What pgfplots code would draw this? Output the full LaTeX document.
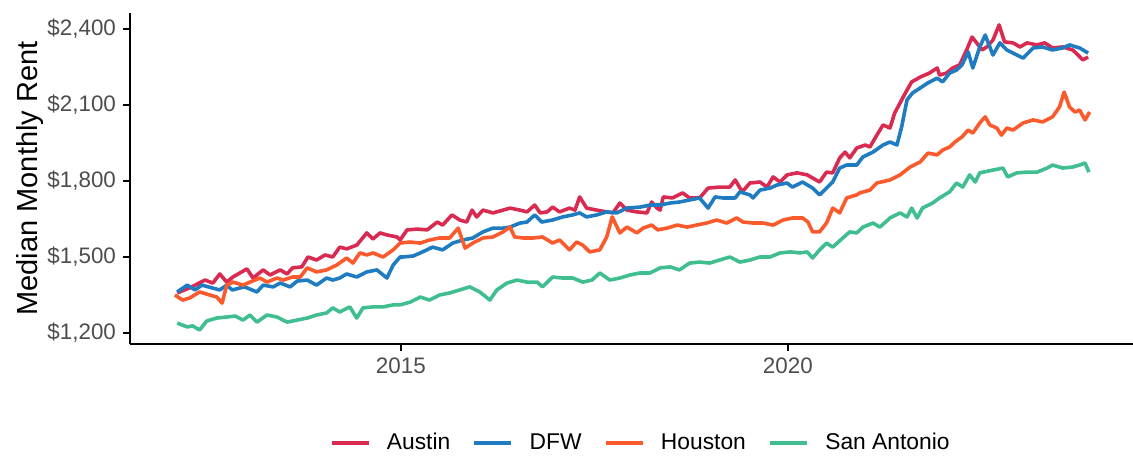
\documentclass[border=0pt]{standalone}
\usepackage{pgfplots}
\pgfplotsset{compat=1.18}
\usepackage{fontspec}
\setmainfont{Liberation Sans}
\definecolor{austin}{HTML}{D92B52}
\definecolor{dfw}{HTML}{1F7CC1}
\definecolor{houston}{HTML}{FA5A2C}
\definecolor{sanantonio}{HTML}{40BE8F}
\definecolor{ticktext}{HTML}{4D4D4D}
\begin{document}
\begin{tikzpicture}
\begin{axis}[
  name=main,
  scale only axis,
  width=501.5pt, height=165.5pt,
  xmin=2011.5, xmax=2024.46, ymin=1156.6, ymax=2463,
  axis x line*=bottom, axis y line*=left,
  axis line style={black, line width=1pt, -},
  xtick={2015,2020}, xticklabels={2015,2020},
  ytick={1200,1500,1800,2100,2400},
  yticklabels={{\$1,200},{\$1,500},{\$1,800},{\$2,100},{\$2,400}},
  tick align=outside, major tick length=3.5pt,
  tick style={black, line width=0.8pt},
  ticklabel style={font=\fontsize{11.2}{13}\selectfont, text=ticktext},
  ylabel={Median Monthly Rent},
  ylabel style={font=\fontsize{14.5}{17}\selectfont, at={(axis description cs:-0.0997,0.5)}, anchor=center},
  legend columns=4,
  legend style={at={(0.510,-0.299)}, anchor=center, draw=none, font=\fontsize{11.4}{13}\selectfont,
    /tikz/every odd column/.append style={column sep=6pt},
    /tikz/every even column/.append style={column sep=9pt}},
  legend image code/.code={\draw[#1, line width=2.2pt] (0pt,0pt) -- (18.5pt,0pt);},
  every axis plot/.append style={line width=1.8pt, line join=round},
  clip=false,
]
\addplot[austin] coordinates {
(2012.11,1358) (2012.27,1378) (2012.47,1409) (2012.57,1397) (2012.66,1433) (2012.75,1401) (2012.83,1421)
(2013.01,1453) (2013.09,1417) (2013.22,1449) (2013.31,1429) (2013.44,1449) (2013.53,1433) (2013.60,1457)
(2013.72,1461) (2013.80,1500) (2013.91,1488) (2014.02,1508) (2014.12,1500) (2014.21,1539) (2014.30,1532)
(2014.43,1547) (2014.56,1595) (2014.64,1571) (2014.73,1595) (2014.82,1587) (2014.95,1579) (2014.99,1567)
(2015.08,1607) (2015.21,1610) (2015.34,1607) (2015.47,1638) (2015.54,1626) (2015.66,1666) (2015.76,1646)
(2015.85,1638) (2015.92,1685) (2015.98,1658) (2016.06,1685) (2016.19,1674) (2016.32,1685) (2016.41,1693)
(2016.54,1685) (2016.63,1678) (2016.73,1705) (2016.80,1674) (2016.89,1678) (2016.96,1697) (2017.05,1678)
(2017.18,1693) (2017.25,1685) (2017.31,1737) (2017.40,1693) (2017.53,1685) (2017.66,1678) (2017.74,1674)
(2017.83,1713) (2017.92,1685) (2018.05,1678) (2018.18,1674) (2018.24,1717) (2018.31,1693) (2018.35,1685)
(2018.39,1737) (2018.51,1733) (2018.64,1753) (2018.73,1733) (2018.86,1733) (2018.97,1772) (2019.12,1776)
(2019.25,1776) (2019.32,1804) (2019.41,1757) (2019.51,1792) (2019.64,1796) (2019.73,1776) (2019.81,1816)
(2019.90,1796) (2019.99,1824) (2020.12,1832) (2020.25,1824) (2020.32,1812) (2020.41,1796) (2020.50,1835)
(2020.58,1832) (2020.67,1891) (2020.74,1914) (2020.80,1891) (2020.89,1930) (2021.00,1942) (2021.06,1934)
(2021.15,1981) (2021.23,2021) (2021.32,2009) (2021.38,2068) (2021.45,2108) (2021.54,2159) (2021.60,2191)
(2021.71,2210) (2021.83,2226) (2021.93,2246) (2021.96,2218) (2022.05,2226) (2022.13,2246) (2022.22,2258)
(2022.31,2317) (2022.38,2368) (2022.44,2345) (2022.51,2317) (2022.57,2329) (2022.65,2356) (2022.73,2416)
(2022.80,2349) (2022.91,2345) (2023.00,2329) (2023.09,2345) (2023.22,2337) (2023.32,2345) (2023.42,2325)
(2023.55,2329) (2023.68,2317) (2023.75,2297) (2023.81,2278) (2023.88,2289)
};
\addlegendentry{Austin}
\addplot[dfw] coordinates {
(2012.11,1362) (2012.24,1389) (2012.34,1370) (2012.43,1389) (2012.56,1378) (2012.66,1370) (2012.75,1389)
(2012.82,1370) (2012.98,1382) (2013.14,1362) (2013.22,1389) (2013.35,1382) (2013.44,1397) (2013.57,1382)
(2013.66,1405) (2013.79,1409) (2013.91,1389) (2014.04,1417) (2014.12,1409) (2014.21,1417) (2014.30,1433)
(2014.43,1421) (2014.56,1441) (2014.69,1449) (2014.82,1417) (2014.90,1468) (2014.99,1500) (2015.03,1500)
(2015.16,1504) (2015.28,1520) (2015.41,1539) (2015.54,1528) (2015.67,1555) (2015.80,1567) (2015.93,1575)
(2016.06,1599) (2016.19,1614) (2016.32,1614) (2016.41,1618) (2016.54,1634) (2016.63,1638) (2016.73,1666)
(2016.82,1638) (2016.96,1646) (2017.09,1658) (2017.22,1666) (2017.31,1674) (2017.40,1658) (2017.53,1666)
(2017.66,1678) (2017.79,1674) (2017.92,1693) (2018.09,1697) (2018.22,1705) (2018.35,1705) (2018.48,1713)
(2018.60,1717) (2018.73,1725) (2018.86,1733) (2018.97,1693) (2019.06,1737) (2019.16,1733) (2019.32,1733)
(2019.38,1757) (2019.51,1745) (2019.55,1733) (2019.64,1764) (2019.77,1772) (2019.86,1784) (2019.99,1792)
(2020.06,1776) (2020.19,1796) (2020.32,1772) (2020.41,1745) (2020.50,1772) (2020.58,1796) (2020.67,1851)
(2020.76,1863) (2020.89,1863) (2020.97,1895) (2021.10,1914) (2021.23,1942) (2021.32,1954) (2021.41,1942)
(2021.47,2013) (2021.54,2120) (2021.61,2147) (2021.71,2167) (2021.81,2187) (2021.93,2206) (2022.00,2191)
(2022.09,2226) (2022.18,2238) (2022.25,2258) (2022.33,2309) (2022.39,2246) (2022.48,2329) (2022.55,2376)
(2022.61,2329) (2022.65,2297) (2022.74,2345) (2022.83,2317) (2022.96,2297) (2023.04,2285) (2023.17,2325)
(2023.29,2329) (2023.42,2317) (2023.55,2325) (2023.64,2337) (2023.77,2325) (2023.88,2305)
};
\addlegendentry{DFW}
\addplot[houston] coordinates {
(2012.08,1350) (2012.18,1330) (2012.27,1338) (2012.40,1362) (2012.53,1350) (2012.62,1342) (2012.69,1318)
(2012.75,1389) (2012.83,1401) (2012.96,1389) (2013.05,1401) (2013.18,1417) (2013.27,1401) (2013.40,1417)
(2013.48,1409) (2013.60,1421) (2013.70,1421) (2013.79,1457) (2013.91,1441) (2014.04,1449) (2014.17,1468)
(2014.30,1496) (2014.38,1476) (2014.47,1516) (2014.56,1508) (2014.64,1516) (2014.77,1500) (2014.90,1528)
(2014.99,1555) (2015.12,1559) (2015.25,1555) (2015.37,1567) (2015.50,1575) (2015.63,1575) (2015.74,1614)
(2015.83,1535) (2015.93,1555) (2016.06,1575) (2016.19,1579) (2016.32,1599) (2016.41,1618) (2016.47,1579)
(2016.58,1575) (2016.71,1575) (2016.83,1579) (2016.96,1555) (2017.05,1567) (2017.18,1528) (2017.27,1559)
(2017.35,1547) (2017.44,1520) (2017.57,1528) (2017.66,1579) (2017.73,1658) (2017.83,1595) (2017.92,1618)
(2018.05,1595) (2018.13,1614) (2018.24,1626) (2018.32,1607) (2018.44,1614) (2018.57,1626) (2018.70,1618)
(2018.82,1626) (2018.95,1634) (2019.08,1646) (2019.21,1634) (2019.34,1654) (2019.42,1638) (2019.55,1634)
(2019.68,1634) (2019.81,1626) (2019.94,1646) (2020.06,1654) (2020.19,1654) (2020.26,1638) (2020.32,1599)
(2020.41,1599) (2020.50,1634) (2020.58,1693) (2020.67,1674) (2020.76,1733) (2020.89,1745) (2020.93,1753)
(2021.06,1764) (2021.15,1792) (2021.32,1804) (2021.45,1824) (2021.58,1855) (2021.71,1875) (2021.81,1910)
(2021.93,1903) (2022.00,1922) (2022.09,1934) (2022.16,1954) (2022.25,1974) (2022.33,2001) (2022.39,1989)
(2022.48,2029) (2022.55,2053) (2022.61,2021) (2022.70,2009) (2022.76,1981) (2022.83,2009) (2022.91,2001)
(2023.04,2029) (2023.17,2041) (2023.29,2033) (2023.42,2053) (2023.51,2092) (2023.57,2151) (2023.64,2092)
(2023.71,2072) (2023.77,2080) (2023.84,2041) (2023.90,2072)
};
\addlegendentry{Houston}
\addplot[sanantonio] coordinates {
(2012.11,1239) (2012.24,1224) (2012.31,1228) (2012.40,1212) (2012.49,1247) (2012.62,1259) (2012.75,1263)
(2012.86,1267) (2012.96,1251) (2013.05,1271) (2013.14,1243) (2013.27,1271) (2013.40,1263) (2013.53,1243)
(2013.66,1251) (2013.79,1259) (2013.91,1271) (2014.04,1279) (2014.12,1299) (2014.21,1283) (2014.34,1303)
(2014.43,1259) (2014.51,1299) (2014.64,1303) (2014.77,1303) (2014.90,1311) (2014.99,1311) (2015.12,1322)
(2015.25,1342) (2015.37,1330) (2015.50,1350) (2015.63,1358) (2015.76,1370) (2015.89,1382) (2016.02,1362)
(2016.15,1330) (2016.24,1370) (2016.37,1397) (2016.50,1409) (2016.63,1401) (2016.76,1401) (2016.83,1382)
(2016.96,1421) (2017.09,1417) (2017.22,1417) (2017.35,1401) (2017.47,1409) (2017.57,1437) (2017.70,1409)
(2017.83,1417) (2017.96,1429) (2018.09,1437) (2018.22,1437) (2018.35,1457) (2018.48,1461) (2018.60,1449)
(2018.73,1476) (2018.86,1480) (2018.99,1476) (2019.12,1488) (2019.25,1500) (2019.38,1480) (2019.51,1488)
(2019.64,1500) (2019.77,1500) (2019.90,1516) (2020.03,1520) (2020.16,1516) (2020.25,1520) (2020.32,1496)
(2020.41,1528) (2020.50,1555) (2020.58,1539) (2020.71,1575) (2020.80,1599) (2020.89,1595) (2020.97,1618)
(2021.10,1634) (2021.19,1618) (2021.32,1654) (2021.45,1674) (2021.54,1658) (2021.60,1693) (2021.67,1654)
(2021.74,1693) (2021.87,1713) (2021.96,1733) (2022.09,1757) (2022.18,1792) (2022.26,1776) (2022.35,1824)
(2022.42,1796) (2022.48,1832) (2022.65,1843) (2022.78,1851) (2022.84,1816) (2022.96,1832) (2023.09,1835)
(2023.22,1835) (2023.35,1851) (2023.42,1863) (2023.55,1851) (2023.68,1855) (2023.77,1863) (2023.84,1871)
(2023.89,1835)
};
\addlegendentry{San Antonio}
\end{axis}
\pgfresetboundingbox
\path[use as bounding box] ([xshift=-65pt,yshift=-57.5pt]main.south west) rectangle ([yshift=6.5pt]main.north east);
\end{tikzpicture}
\end{document}
